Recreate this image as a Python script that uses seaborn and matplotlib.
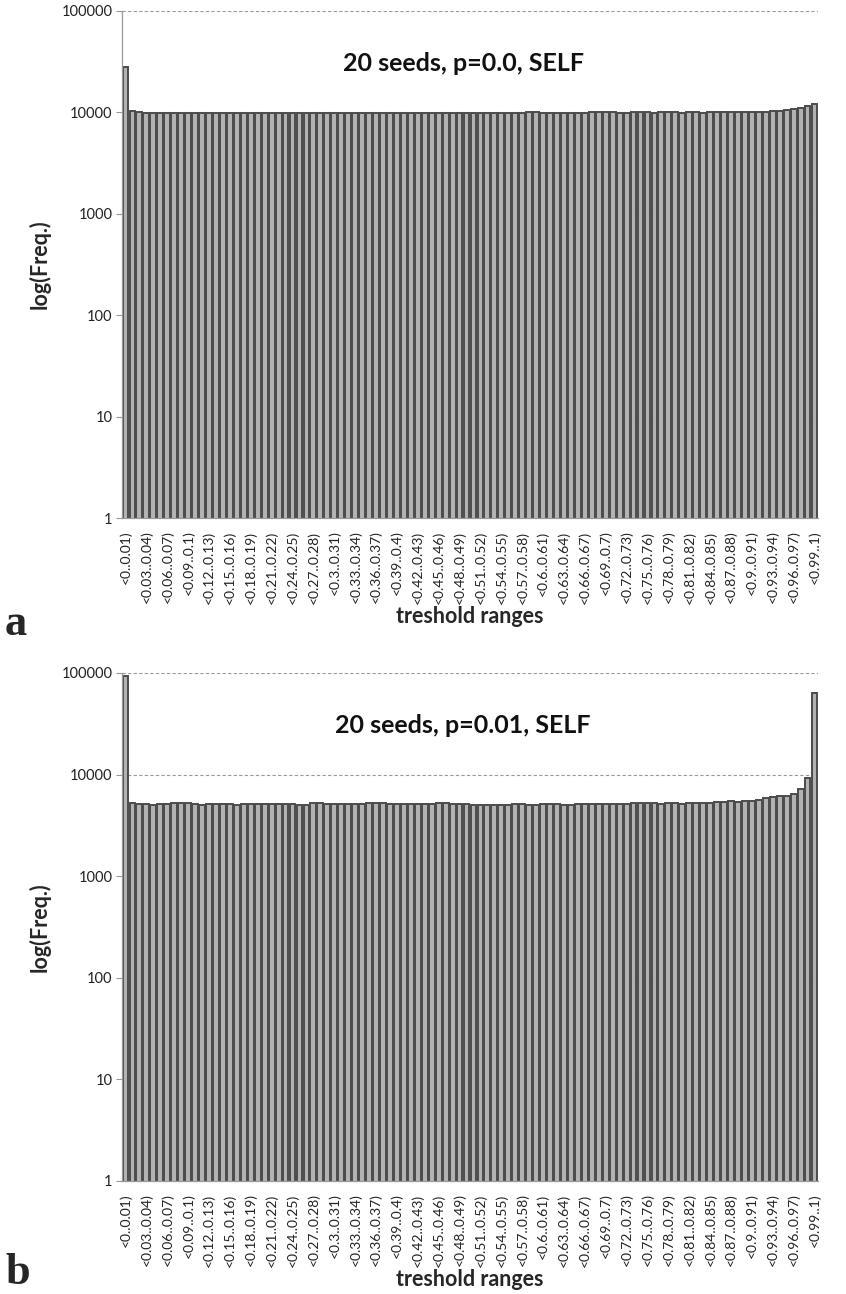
import matplotlib
matplotlib.use("Agg")
import matplotlib.pyplot as plt
import seaborn as sns
import pandas as pd
from matplotlib.ticker import FixedLocator, NullFormatter

sns.set_theme(style="white")
plt.rcParams['font.family'] = ['Lato', 'DejaVu Sans']

# ---- data ----
categories = [f"<{i/100:g}..{(i+1)/100:g})" for i in range(100)]

freq_a = [
    28000, 10300, 10000, 9900, 9950, 9900, 9950, 9900, 9950, 9950,
    9900, 9950, 9950, 9900, 9950, 9950, 9900, 9950, 9900, 9950,
    9900, 9950, 9950, 9900, 9950, 9900, 9900, 9950, 9950, 9900,
    9950, 9900, 9950, 9950, 9900, 9950, 9950, 9900, 9900, 9850,
    9950, 9950, 9950, 9900, 9950, 9950, 9900, 9950, 9950, 9950,
    9950, 9950, 9950, 9900, 9950, 9950, 9950, 9950, 10100, 10100,
    9950, 9950, 9950, 9950, 9950, 9950, 9950, 10000, 10000, 10000,
    10000, 9950, 9950, 10050, 10050, 10050, 9950, 10000, 10000, 10150,
    9850, 10150, 10000, 9950, 10050, 10050, 10050, 10050, 10050, 10050,
    10100, 10150, 10200, 10300, 10400, 10500, 10700, 11000, 11600, 12000,
]

freq_b = [
    93000, 5300, 5100, 5100, 5050, 5150, 5150, 5300, 5300, 5300,
    5150, 5050, 5150, 5150, 5150, 5150, 5050, 5150, 5150, 5150,
    5100, 5150, 5150, 5150, 5150, 5050, 5000, 5300, 5250, 5150,
    5150, 5150, 5150, 5150, 5150, 5300, 5300, 5300, 5100, 5150,
    5150, 5150, 5150, 5150, 5150, 5250, 5300, 5150, 5150, 5150,
    5050, 5050, 5050, 5050, 5050, 5050, 5150, 5100, 5050, 5050,
    5150, 5150, 5150, 5050, 5050, 5150, 5150, 5150, 5150, 5100,
    5150, 5150, 5150, 5200, 5200, 5200, 5200, 5150, 5200, 5200,
    5150, 5250, 5250, 5250, 5250, 5400, 5400, 5450, 5350, 5450,
    5450, 5600, 5850, 6000, 6100, 6200, 6400, 7200, 9300, 64000,
]

titles = ["20 seeds, p=0.0, SELF", "20 seeds, p=0.01, SELF"]
panel_letters = ["a", "b"]
ytick_vals = [1, 10, 100, 1000, 10000, 100000]
ytick_labels = ["1", "10", "100", "1000", "10000", "100000"]
label_step = 3

fig = plt.figure(figsize=(8.46, 12.94), dpi=100)
axes_rects = [
    [122/846, 1 - 518/1294, 696/846, 507/1294],
    [122/846, 1 - 1181/1294, 696/846, 508/1294],
]
letter_y = [1 - 635/1294, 1 - 1284/1294]

for k, (vals, title, rect) in enumerate(zip([freq_a, freq_b], titles, axes_rects)):
    ax = fig.add_axes(rect)
    df = pd.DataFrame({"range": categories, "freq": vals})
    ax.set_yscale("log")
    sns.barplot(data=df, x="range", y="freq", ax=ax, color="#b2b2b2",
                saturation=1, width=0.84, edgecolor="#4c4c4c", linewidth=1.4)
    ax.set_ylim(1, 100000)
    ax.set_xlim(-0.5, len(categories) - 0.5)
    ax.set_axisbelow(True)
    ax.yaxis.set_major_locator(FixedLocator(ytick_vals))
    ax.set_yticklabels(ytick_labels, fontsize=10.5, color="#222222")
    ax.yaxis.set_minor_formatter(NullFormatter())
    ax.yaxis.set_minor_locator(FixedLocator([]))
    ax.grid(axis="y", linestyle=(0, (3, 2)), color="#999999", linewidth=0.8)
    ax.grid(axis="x", visible=False)
    pos = list(range(0, len(categories), label_step))
    ax.set_xticks(pos)
    ax.set_xticklabels([categories[i] for i in pos], rotation=90,
                       fontsize=10, color="#222222")
    ax.set_xticks([i + 0.5 for i in range(-1, len(categories))], minor=True)
    ax.tick_params(axis="x", which="major", length=0, pad=9)
    ax.tick_params(axis="x", which="minor", length=3, color="#999999", width=0.8)
    ax.tick_params(axis="y", which="major", length=4, color="#999999", width=0.8,
                   left=True, pad=3)
    for side in ["top", "right"]:
        ax.spines[side].set_visible(False)
    for side in ["left", "bottom"]:
        ax.spines[side].set_color("#999999")
        ax.spines[side].set_linewidth(0.9)
    ax.set_xlabel("treshold ranges", fontsize=15.5, fontweight="bold", va="top")
    ax.xaxis.set_label_coords(0.5, -88 / (rect[3] * 1294))
    ax.set_ylabel("log(Freq.)", fontsize=15.5, fontweight="bold")
    ax.yaxis.set_label_coords(-71 / (rect[2] * 846), 0.5)
    ax.text(0.49, 0.896, title, transform=ax.transAxes, ha="center", va="center",
            fontsize=18, fontweight="bold", color="#111111")
    fig.text(5/846, letter_y[k], panel_letters[k], fontsize=32, fontweight="bold",
             family=["Liberation Serif", "DejaVu Serif"], ha="left", va="baseline")

fig.savefig("out.png", dpi=100, facecolor="white")
